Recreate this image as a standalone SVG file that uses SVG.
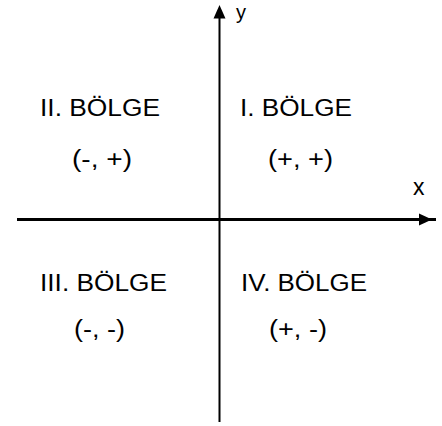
<svg xmlns="http://www.w3.org/2000/svg" width="442" height="426" viewBox="0 0 442 426">
<style>
.t{font-family:"Liberation Sans",Arial,sans-serif;font-size:23px;fill:#000}
.ax{stroke:#000;fill:none}
.ah{fill:#000;stroke:none}
</style>
<rect width="442" height="426" fill="#fff"/>
<g id="axes">
<line class="ax" x1="17" y1="219.5" x2="436" y2="219.5" stroke-width="3"/>
<polygon class="ah" points="432,219.5 419,213.5 419,225.5"/>
<line class="ax" x1="219.5" y1="10" x2="219.5" y2="422" stroke-width="2"/>
<polygon class="ah" points="219.5,5 213.5,18.5 225.5,18.5"/>
</g>
<g id="label-y"><text class="t" x="236" y="19" style="font-size:20px">y</text></g>
<g id="label-x"><text class="t" x="413" y="195">x</text></g>
<g id="q2">
<text class="t" x="40" y="116" textLength="120" lengthAdjust="spacingAndGlyphs">II. BÖLGE</text>
<text class="t" x="72" y="167" textLength="60" lengthAdjust="spacingAndGlyphs">(-, +)</text>
</g>
<g id="q1">
<text class="t" x="240" y="116" textLength="112" lengthAdjust="spacingAndGlyphs">I. BÖLGE</text>
<text class="t" x="268" y="167" textLength="65" lengthAdjust="spacingAndGlyphs">(+, +)</text>
</g>
<g id="q3">
<text class="t" x="40" y="291" textLength="127" lengthAdjust="spacingAndGlyphs">III. BÖLGE</text>
<text class="t" x="74" y="337" textLength="51" lengthAdjust="spacingAndGlyphs">(-, -)</text>
</g>
<g id="q4">
<text class="t" x="241" y="291" textLength="126" lengthAdjust="spacingAndGlyphs">IV. BÖLGE</text>
<text class="t" x="269" y="337" textLength="58" lengthAdjust="spacingAndGlyphs">(+, -)</text>
</g>
</svg>
